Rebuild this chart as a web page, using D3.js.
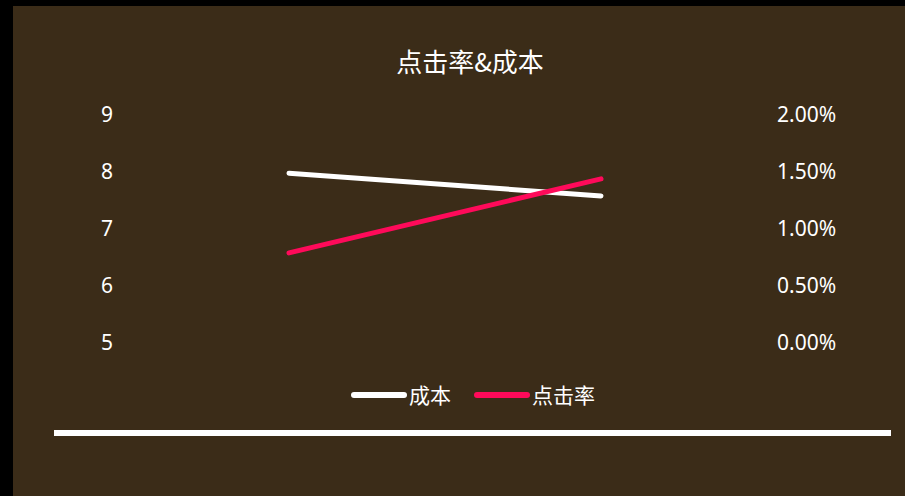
<!DOCTYPE html>
<html><head><meta charset="utf-8">
<script src="https://cdn.jsdelivr.net/npm/d3@7/dist/d3.min.js"></script>
<style>
html,body{margin:0;padding:0;background:#000;overflow:hidden}
svg{display:block}
text{font-family:"Noto Sans CJK SC","Noto Sans",sans-serif;fill:#fff}
</style></head>
<body>
<svg id="c" width="905" height="496"></svg>
<script>
const categories = ["第一期", "第二期"];
const costValues = [7.98, 7.58];
const ctrValues = [0.0079, 0.0144];
const leftTicks = [5, 6, 7, 8, 9];
const rightTicks = [0, 0.005, 0.01, 0.015, 0.02];
const seriesNames = ["成本", "点击率"];
const colors = ["#ffffff", "#ff0a5a"];

const svg = d3.select("#c");
svg.append("rect").attr("x", 13).attr("y", 6).attr("width", 892).attr("height", 490).attr("fill", "#3b2c18");

const x = d3.scaleBand().domain(categories).range([133, 757]);
const yL = d3.scaleLinear().domain([5, 9]).range([343, 115]);
const yR = d3.scaleLinear().domain([0, 0.02]).range([343, 115]);

svg.append("text").attr("x", 470).attr("y", 72).attr("text-anchor", "middle")
  .style("font-size", "26px").text("点击率&成本");

const axL = svg.append("g").attr("transform", "translate(133,0)")
  .call(d3.axisLeft(yL).tickValues(leftTicks).tickSize(0).tickPadding(20).tickFormat(d3.format("d")));
const axR = svg.append("g").attr("transform", "translate(757,0)")
  .call(d3.axisRight(yR).tickValues(rightTicks).tickSize(0).tickPadding(20).tickFormat(d3.format(".2%")));
[axL, axR].forEach(a => {
  a.select(".domain").remove();
  a.selectAll("text").attr("fill", "#fff").style("font-family", "'Noto Sans',sans-serif").style("font-size", "21px");
});

const cx = d => x(d) + x.bandwidth() / 2;
const lineCost = d3.line().x((d, i) => cx(categories[i])).y(d => yL(d));
const lineCtr = d3.line().x((d, i) => cx(categories[i])).y(d => yR(d));

svg.append("path").attr("d", lineCost(costValues)).attr("fill", "none")
  .attr("stroke", colors[0]).attr("stroke-width", 5).attr("stroke-linecap", "round");
svg.append("path").attr("d", lineCtr(ctrValues)).attr("fill", "none")
  .attr("stroke", colors[1]).attr("stroke-width", 5).attr("stroke-linecap", "round");

// legend
const legendX = [354, 477];
seriesNames.forEach((n, i) => {
  const g = svg.append("g").attr("transform", `translate(${legendX[i]},395)`);
  g.append("line").attr("x1", 0).attr("x2", 50).attr("y1", 0).attr("y2", 0)
    .attr("stroke", colors[i]).attr("stroke-width", 6).attr("stroke-linecap", "round");
  g.append("text").attr("x", 55).attr("y", 8).style("font-size", "21px").text(n);
});

// bottom bar
svg.append("rect").attr("x", 54).attr("y", 430).attr("width", 837).attr("height", 6).attr("fill", "#fff");
</script>
</body></html>
